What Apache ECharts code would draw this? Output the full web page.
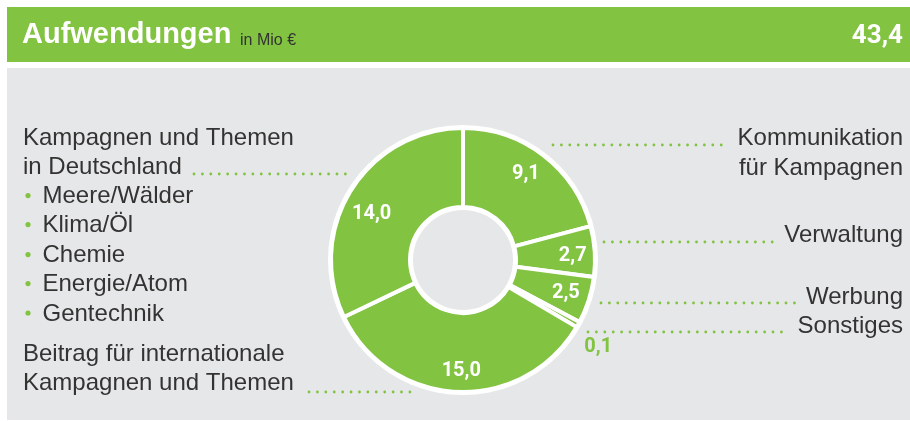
<!DOCTYPE html>
<html>
<head>
<meta charset="utf-8">
<script src="https://cdn.jsdelivr.net/npm/echarts@6/dist/echarts.min.js"></script>
<style>
html,body{margin:0;padding:0;background:#fff;}
#chart{width:910px;height:421px;}
</style>
</head>
<body>
<div id="chart"></div>
<script>
// ---- data ----
const title = 'Aufwendungen';
const unit = 'in Mio €';
const totalLabel = '43,4';
const categories = [
  'Kommunikation für Kampagnen',
  'Verwaltung',
  'Werbung',
  'Sonstiges',
  'Beitrag für internationale Kampagnen und Themen',
  'Kampagnen und Themen in Deutschland'
];
const values = [9.1, 2.7, 2.5, 0.1, 15.0, 14.0];
const themes = ['Meere/Wälder', 'Klima/Öl', 'Chemie', 'Energie/Atom', 'Gentechnik'];

// ---- style ----
const GREEN = '#82c341';
const GRAY = '#e6e7e8';
const TEXT = '#333333';
const FONT = '"Liberation Sans", Arial, sans-serif';
const NUMFONT = 'Roboto, "Liberation Sans", sans-serif';
const CENTER = [463, 260];

const fmt = v => v.toFixed(1).replace('.', ',');

const pieData = categories.map((c, i) => ({ name: c, value: values[i] }));

// label positioning tweaks per slice (index based)
const labelTweaks = {
  0: { offset: [-3, 0] },
  1: { offset: [2, 3] },
  3: { position: 'inside', color: GREEN, offset: [41, 34] },
  4: { offset: [3, 3] },
  5: { offset: [0, 12] }
};
const labelData = categories.map((c, i) => {
  const d = { name: c, value: values[i] };
  if (labelTweaks[i]) d.label = labelTweaks[i];
  return d;
});

// ---- annotation graphics ----
const g = [];
g.push({ type: 'rect', shape: { x: 7, y: 7, width: 903, height: 55 }, style: { fill: GREEN }, z: -10, silent: true });
g.push({ type: 'rect', shape: { x: 7, y: 68, width: 903, height: 352 }, style: { fill: GRAY }, z: -10, silent: true });
g.push({ type: 'text', x: 22, y: 35, style: { text: title, fill: '#fff', font: 'bold 29px ' + FONT, verticalAlign: 'middle' }, silent: true });
g.push({ type: 'text', x: 240, y: 40.5, style: { text: unit, fill: TEXT, font: '16px ' + FONT, verticalAlign: 'middle' }, silent: true });
g.push({ type: 'text', x: 903, y: 36, style: { text: totalLabel, fill: '#fff', font: 'bold 26px ' + NUMFONT, align: 'right', verticalAlign: 'middle' }, silent: true });

function txt(x, y, s, align) {
  g.push({ type: 'text', x: x, y: y, style: { text: s, fill: TEXT, font: '24px ' + FONT, align: align || 'left', verticalAlign: 'middle' }, silent: true });
}
function dots(x1, x2, y) {
  g.push({ type: 'line', shape: { x1: x1, y1: y, x2: x2, y2: y }, style: { stroke: GREEN, lineWidth: 2.8, lineCap: 'round', lineDash: [0.01, 8.4] }, silent: true });
}

// left block
txt(23, 138.6, 'Kampagnen und Themen');
txt(23, 167.6, 'in Deutschland');
dots(194, 347, 174);
const bulletY = [196.6, 225.6, 255.6, 284.6, 314];
themes.forEach((t, i) => {
  g.push({ type: 'circle', shape: { cx: 28, cy: bulletY[i] - 1, r: 2.6 }, style: { fill: GREEN }, silent: true });
  txt(42.5, bulletY[i], t);
});
txt(23, 354.6, 'Beitrag für internationale');
txt(23, 383.6, 'Kampagnen und Themen');
dots(309, 413, 392);

// right block
txt(903, 138.3, 'Kommunikation', 'right');
txt(903, 168.3, 'für Kampagnen', 'right');
dots(553, 725, 145);
txt(903, 235.6, 'Verwaltung', 'right');
dots(604, 780, 242);
txt(903, 297.3, 'Werbung', 'right');
dots(601, 798, 303);
txt(903, 326.6, 'Sonstiges', 'right');
dots(588, 788, 332);

const chart = echarts.init(document.getElementById('chart'), null, { renderer: 'canvas' });
chart.setOption({
  animation: false,
  backgroundColor: '#fff',
  graphic: g,
  series: [
    {
      // white ring behind the donut
      type: 'pie', silent: true, center: CENTER, radius: [50, 135],
      startAngle: 90, clockwise: true,
      itemStyle: { color: '#fff' }, label: { show: false }, labelLine: { show: false },
      data: [{ value: 1 }], z: 1
    },
    {
      type: 'pie', silent: true, center: CENTER, radius: [53, 132],
      startAngle: 90, clockwise: true, minAngle: 2.5,
      avoidLabelOverlap: false,
      itemStyle: { color: GREEN, borderColor: '#fff', borderWidth: 4 },
      label: { show: false }, labelLine: { show: false },
      data: pieData, z: 2
    },
    {
      // label carrier (transparent) so labels sit in the outer part of the ring
      type: 'pie', silent: true, center: CENTER, radius: [76, 134],
      startAngle: 90, clockwise: true, minAngle: 2.5,
      avoidLabelOverlap: false,
      itemStyle: { color: 'rgba(0,0,0,0)' },
      label: {
        show: true, position: 'inside', rotate: 0,
        formatter: p => fmt(p.value),
        color: '#fff', fontFamily: NUMFONT, fontWeight: 'bold', fontSize: 20
      },
      labelLine: { show: false },
      data: labelData, z: 3
    }
  ]
});
</script>
</body>
</html>
